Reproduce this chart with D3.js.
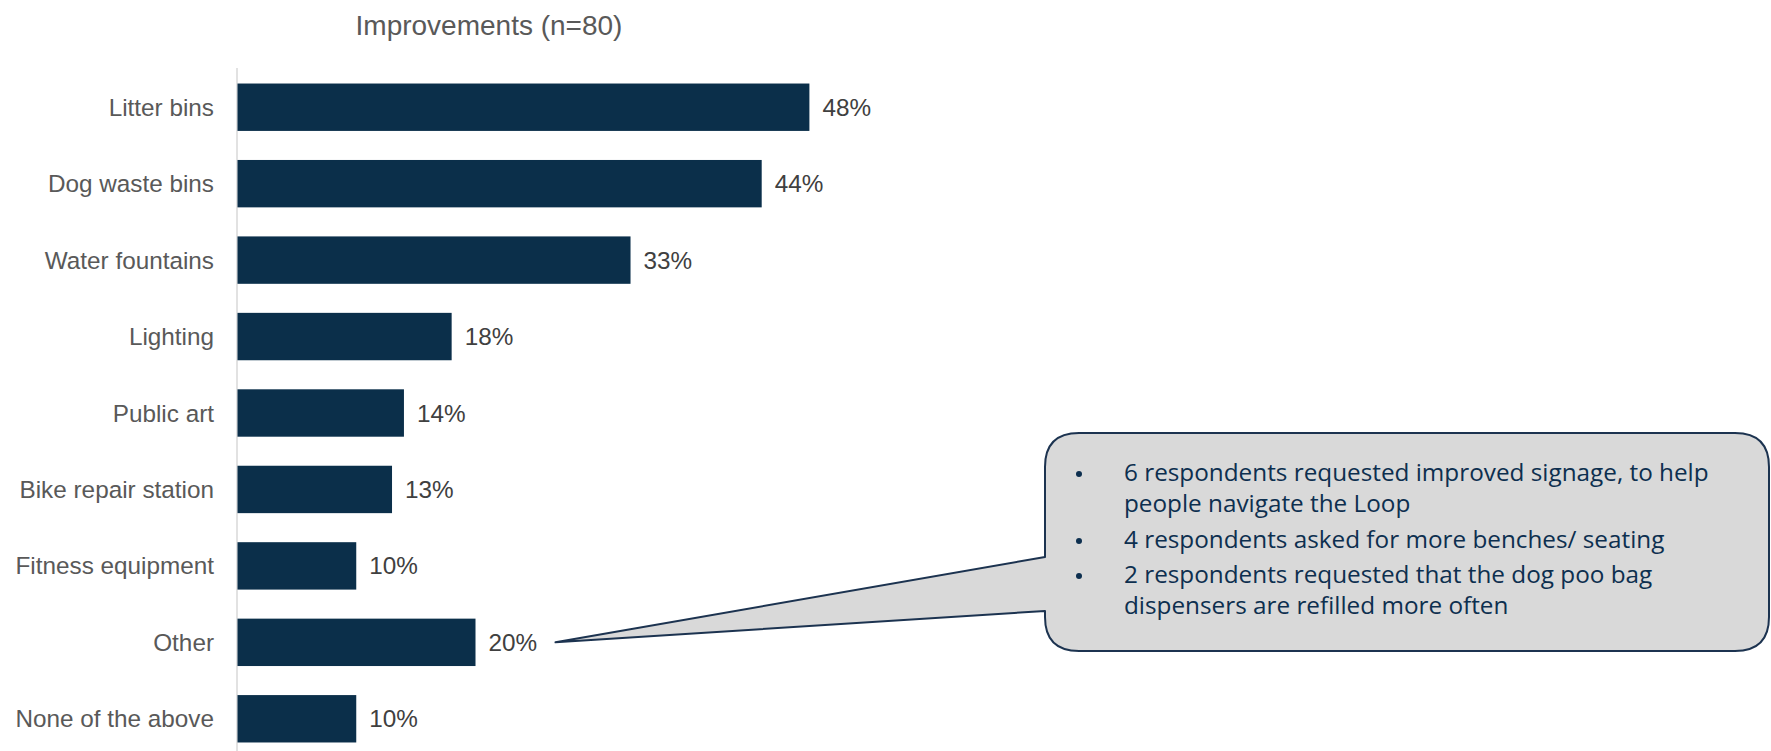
<!DOCTYPE html>
<html>
<head>
<meta charset="utf-8">
<script src="https://cdn.jsdelivr.net/npm/d3@7"></script>
<style>
  html, body { margin: 0; padding: 0; background: #ffffff; }
  svg { display: block; }
</style>
</head>
<body>
<svg id="chart" width="1771" height="751"></svg>
<script>
// Survey results: suggested improvements
const chartTitle = "Improvements (n=80)";
const categories = [
  "Litter bins", "Dog waste bins", "Water fountains", "Lighting", "Public art",
  "Bike repair station", "Fitness equipment", "Other", "None of the above"
];
const shares = [0.48, 0.44, 0.33, 0.18, 0.14, 0.13, 0.10, 0.20, 0.10];
const otherNotes = [
  ["6 respondents requested improved signage, to help", "people navigate the Loop"],
  ["4 respondents asked for more benches/ seating"],
  ["2 respondents requested that the dog poo bag", "dispensers are refilled more often"]
];

const svg = d3.select("#chart");
const barColor = "#0b2f4a";
const font = "'Liberation Sans', Arial, sans-serif";

const x = d3.scaleLinear().domain([0, 1]).range([237, 237 + 1192.5]);
const y = d3.scaleBand().domain(categories).range([69, 757])
  .paddingInner(0.38).paddingOuter(0.19);

// title
svg.append("text")
  .attr("x", 489).attr("y", 35)
  .attr("text-anchor", "middle")
  .attr("font-family", font).attr("font-size", 28)
  .attr("fill", "#595959")
  .text(chartTitle);

// vertical category axis line
svg.append("line")
  .attr("x1", x(0)).attr("x2", x(0))
  .attr("y1", 68).attr("y2", 751)
  .attr("stroke", "#d9d9d9").attr("stroke-width", 1.5);

// bars
svg.append("g").selectAll("rect").data(categories).join("rect")
  .attr("x", x(0) + 0.5)
  .attr("y", d => y(d))
  .attr("width", (d, i) => x(shares[i]) - x(0) - 0.5)
  .attr("height", y.bandwidth())
  .attr("fill", barColor);

// category labels
svg.append("g").selectAll("text").data(categories).join("text")
  .attr("x", 214)
  .attr("y", d => y(d) + y.bandwidth() / 2)
  .attr("dy", "0.35em")
  .attr("text-anchor", "end")
  .attr("font-family", font).attr("font-size", 24.3)
  .attr("fill", "#595959")
  .text(d => d);

// value labels
const pct = d3.format(".0%");
svg.append("g").selectAll("text").data(categories).join("text")
  .attr("x", (d, i) => x(shares[i]) + 13)
  .attr("y", d => y(d) + y.bandwidth() / 2)
  .attr("dy", "0.35em")
  .attr("font-family", font).attr("font-size", 24.3)
  .attr("fill", "#404040")
  .text((d, i) => pct(shares[i]));

// callout explaining the "Other" responses
const bx = 1045, by = 433, bw = 724, bh = 218, r = 34;
const tipX = x(shares[categories.indexOf("Other")]) + 80;
const tipY = y("Other") + y.bandwidth() / 2;
const notchTop = 557, notchBottom = 611;
const path = [
  `M${bx + r},${by}`,
  `H${bx + bw - r}`,
  `Q${bx + bw},${by} ${bx + bw},${by + r}`,
  `V${by + bh - r}`,
  `Q${bx + bw},${by + bh} ${bx + bw - r},${by + bh}`,
  `H${bx + r}`,
  `Q${bx},${by + bh} ${bx},${by + bh - r}`,
  `V${notchBottom}`,
  `L${tipX},${tipY}`,
  `L${bx},${notchTop}`,
  `V${by + r}`,
  `Q${bx},${by} ${bx + r},${by}`,
  "Z"
].join(" ");
svg.append("path")
  .attr("d", path)
  .attr("fill", "#d9d9d9")
  .attr("stroke", "#1c3350")
  .attr("stroke-width", 2)
  .attr("stroke-linejoin", "round");

const noteFont = "'Open Sans', 'Noto Sans', sans-serif";
const noteColor = "#0d2f4f";
const notes = svg.append("g");
const baselines = [[481, 512], [548], [583, 614]];
let firstLine = null;
otherNotes.forEach((lines, k) => {
  notes.append("circle")
    .attr("cx", 1079).attr("cy", baselines[k][0] - 7)
    .attr("r", 3)
    .attr("fill", noteColor);
  lines.forEach((ln, j) => {
    const t = notes.append("text")
      .attr("x", 1124).attr("y", baselines[k][j])
      .attr("font-family", noteFont).attr("font-size", 21)
      .attr("fill", noteColor)
      .text(ln);
    if (!firstLine) firstLine = t;
  });
});
// size the note text so the longest line spans the box's text column
const w = firstLine.node().getComputedTextLength();
const fs = 21 * 585 / w;
notes.selectAll("text").attr("font-size", fs);
</script>
</body>
</html>
